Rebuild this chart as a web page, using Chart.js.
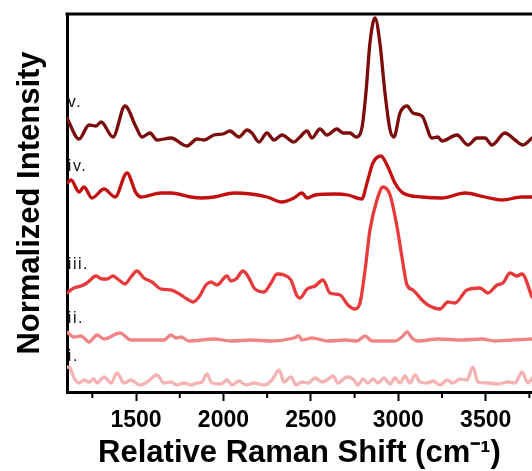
<!DOCTYPE html>
<html><head><meta charset="utf-8">
<script src="https://cdn.jsdelivr.net/npm/chart.js@4/dist/chart.umd.min.js"></script>
<style>html,body{margin:0;padding:0;background:#fff;}canvas{display:block;}</style>
</head><body>
<canvas id="c" width="532" height="471"></canvas>
<script>
const xTitle = 'Relative Raman Shift (cm\u207B\u00B9)';
const yTitle = 'Normalized Intensity';
const majorTicks = [1500, 2000, 2500, 3000, 3500];
const minorTicks = [1250, 1750, 2250, 2750, 3250, 3750];
const seriesNames = ['i.', 'ii.', 'iii.', 'iv.', 'v.'];
const seriesColors = ['#f5b3b3', '#f18585', '#e8393b', '#c30f10', '#7c0b0b'];
const labelX = 1110;
const labelY = [35, 73, 127, 225, 289];

const vX = [1105,1174,1231,1271,1300,1368,1437,1500,1534,1580,1620,1700,1791,1849,1889,1946,1997,2037,2089,2135,2163,2203,2249,2289,2335,2403,2432,2478,2506,2552,2592,2649,2684,2724,2758,2792,2815,2838,2867,2895,2924,2953,2975,3010,3050,3084,3136,3193,3227,3250,3336,3399,3450,3496,3536,3610,3668,3713,3765];
const vY = [274,253,267,266,270,255,286,265,255,259,252,254,246,253,252,257,258,261,255,262,259,250,259,252,257,250,254,261,254,263,257,263,259,259,255,264,299,349,374,349,299,262,255,279,286,279,276,254,255,251,257,247,254,254,247,259,252,247,254];

const ivX = [1105,1128,1174,1202,1248,1317,1380,1448,1500,1528,1643,1700,1814,1872,1946,2060,2158,2249,2335,2403,2449,2478,2524,2638,2712,2792,2821,2855,2901,2941,2981,3027,3136,3250,3382,3496,3593,3708,3765];
const ivY = [209,212,200,205,194,203,195,219,199,195,199,199,195,194,195,199,198,195,190,194,199,194,197,198,197,193,209,229,236,225,209,199,195,194,199,195,192,195,195];

const iiiX = [1105,1145,1185,1219,1271,1305,1334,1368,1402,1437,1471,1505,1545,1591,1643,1700,1757,1791,1826,1860,1900,1929,1963,2020,2043,2072,2112,2146,2175,2232,2272,2306,2346,2386,2421,2438,2478,2524,2569,2609,2667,2712,2752,2781,2810,2838,2878,2913,2953,2993,3021,3050,3084,3136,3170,3239,3284,3324,3393,3467,3513,3565,3599,3639,3679,3708,3765];
const iiiY = [99,104,106,109,116,113,113,116,112,108,115,121,114,110,103,102,97,93,90,95,107,110,107,116,111,113,121,114,104,100,109,118,117,112,96,94,103,106,112,99,97,87,83,89,122,162,192,205,197,165,135,107,102,92,87,83,90,89,102,104,99,107,109,119,116,118,95];

const iiX = [1105,1145,1185,1231,1277,1317,1408,1471,1545,1660,1700,1729,1757,1803,1946,2043,2158,2272,2403,2432,2449,2506,2598,2695,2764,2810,2850,2981,3021,3050,3078,3113,3227,3364,3479,3553,3650,3765];
const iiY = [60,55,56,50,57,53,59,52,52,52,57,54,55,51,53,51,52,51,54,56,52,54,51,52,51,56,51,51,55,60,54,51,53,52,53,51,52,53];

const iX = [1105,1122,1145,1174,1202,1231,1259,1277,1317,1357,1391,1431,1471,1500,1528,1563,1620,1660,1700,1734,1774,1814,1849,1877,1906,1934,1986,2020,2049,2089,2129,2175,2232,2278,2318,2346,2386,2415,2449,2484,2524,2564,2592,2627,2655,2707,2741,2770,2798,2827,2855,2884,2918,2953,2981,3010,3038,3067,3096,3124,3164,3199,3239,3279,3313,3353,3393,3427,3456,3513,3570,3628,3668,3708,3742,3765];
const iY = [25,24,14,9,12,10,13,9,15,9,19,9,12,9,7,10,17,9,10,7,9,7,9,10,18,9,8,12,7,11,7,9,7,12,22,10,15,7,10,9,14,10,12,16,9,15,13,7,13,9,13,9,14,8,14,9,16,9,17,10,9,11,7,12,9,13,12,25,10,9,8,10,9,20,9,14];

const seriesX = [iX, iiX, iiiX, ivX, vX];
const seriesY = [iY, iiY, iiiY, ivY, vY];

const FONT = '"Liberation Sans", Arial, sans-serif';

const datasets = seriesNames.map((name, k) => ({
  label: name,
  data: seriesX[k].map((x, j) => ({ x: x, y: seriesY[k][j] })),
  borderColor: seriesColors[k],
  backgroundColor: seriesColors[k],
  borderWidth: 3.3,
  pointRadius: 0,
  fill: false,
  cubicInterpolationMode: 'monotone',
  borderJoinStyle: 'round',
  borderCapStyle: 'round'
}));

const framePlugin = {
  id: 'framePlugin',
  afterDraw(chart) {
    const { ctx, chartArea, scales } = chart;
    const xs = scales.x, ys = scales.y;
    ctx.save();
    ctx.strokeStyle = '#000';
    ctx.lineWidth = 3;
    ctx.beginPath();
    ctx.moveTo(chartArea.left - 1.5, chartArea.top);
    ctx.lineTo(chartArea.right, chartArea.top);
    ctx.stroke();
    ctx.lineWidth = 2;
    minorTicks.forEach(v => {
      const px = xs.getPixelForValue(v);
      ctx.beginPath();
      ctx.moveTo(px, chartArea.bottom);
      ctx.lineTo(px, chartArea.bottom + 6);
      ctx.stroke();
    });
    ctx.font = '16px ' + FONT;
    ctx.fillStyle = '#111';
    ctx.textAlign = 'left';
    ctx.textBaseline = 'middle';
    try { ctx.letterSpacing = '1.5px'; } catch (e) {}
    seriesNames.forEach((n, k) => {
      ctx.fillText(n, xs.getPixelForValue(labelX), ys.getPixelForValue(labelY[k]));
    });
    ctx.restore();
  }
};

new Chart(document.getElementById('c'), {
  type: 'line',
  data: { datasets: datasets },
  plugins: [framePlugin],
  options: {
    responsive: false,
    devicePixelRatio: 1,
    animation: false,
    layout: { padding: { top: 14, right: 0, bottom: 0, left: 0 } },
    plugins: { legend: { display: false }, tooltip: { enabled: false } },
    scales: {
      x: {
        type: 'linear',
        min: 1105,
        max: 3765,
        afterBuildTicks(s) { s.ticks = majorTicks.map(v => ({ value: v })); },
        afterFit(s) { s.height = 79; },
        ticks: {
          autoSkip: false, maxRotation: 0, padding: 6, color: '#000',
          font: { family: FONT, size: 23, weight: 'bold' },
          callback: v => String(v)
        },
        grid: { display: true, drawOnChartArea: false, drawTicks: true, tickLength: 9, tickWidth: 2, tickColor: '#000' },
        border: { display: true, width: 3, color: '#000' },
        title: { display: true, text: xTitle, color: '#000', padding: 0,
          font: { family: FONT, size: 31, weight: 'bold', lineHeight: 1.1 } }
      },
      y: {
        type: 'linear',
        min: 0,
        max: 378,
        afterFit(s) { s.width = 67; },
        ticks: { display: false },
        grid: { display: false },
        border: { display: true, width: 3, color: '#000' },
        title: { display: true, text: yTitle, color: '#000', padding: { top: 12, bottom: 0 },
          font: { family: FONT, size: 31, weight: 'bold', lineHeight: 1.2 } }
      }
    }
  }
});
</script>
</body></html>
